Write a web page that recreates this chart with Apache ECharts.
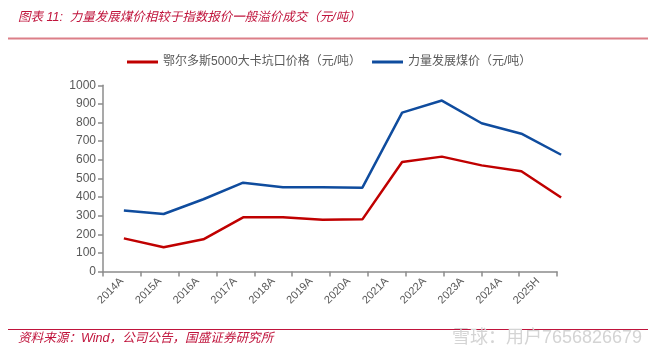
<!DOCTYPE html>
<html><head><meta charset="utf-8">
<script src="https://cdn.jsdelivr.net/npm/echarts@6/dist/echarts.min.js"></script>
<style>html,body{margin:0;padding:0;background:#fff}#c{width:657px;height:357px}</style>
</head><body><div id="c"></div>
<script>
const categories = ['2014A','2015A','2016A','2017A','2018A','2019A','2020A','2021A','2022A','2023A','2024A','2025H'];
const ordosPrice = [178,130,173,291,291,278,280,588,617,570,538,397];
const liliangPrice = [327,309,388,477,452,452,450,853,918,796,740,627];
const yTicks = [0,100,200,300,400,500,600,700,800,900,1000];
const seriesNames = ['鄂尔多斯5000大卡坑口价格（元/吨）','力量发展煤价（元/吨）'];

const chart = echarts.init(document.getElementById('c'), null, {renderer:'canvas'});
const grey = '#595959';
const axisGrey = '#8c8c8c';
const cjk = '"Liberation Sans", Arial, "Noto Sans CJK SC", sans-serif';
chart.setOption({
  animation:false,
  backgroundColor:'#fff',
  textStyle:{fontFamily:cjk},
  title:{
    text:'图表 11:  力量发展煤价相较于指数报价一般溢价成交（元/吨）',
    left:13, top:6,
    textStyle:{color:'#c0143c', fontSize:12.5, fontStyle:'italic', fontWeight:'normal', fontFamily:cjk}
  },
  legend:{
    top:51, left:122,
    itemWidth:31, itemHeight:3, itemGap:11,
    icon:'rect',
    textStyle:{color:grey, fontSize:12, fontFamily:cjk},
    data:seriesNames
  },
  grid:[
    {left:103, right:100, top:85.3, bottom:85.5},
    {left:104, right:76, top:85.3, bottom:85.5}
  ],
  xAxis:[
    {type:'category', gridIndex:0, data:categories, boundaryGap:true,
     axisLine:{lineStyle:{color:axisGrey, width:1.5}},
     axisTick:{show:true, alignWithLabel:false, length:5, lineStyle:{color:axisGrey, width:1.5}},
     axisLabel:{rotate:45, color:grey, fontSize:11, margin:8, interval:0}},
    {type:'category', gridIndex:1, data:categories, boundaryGap:true, show:false}
  ],
  yAxis:[
    {type:'value', gridIndex:0, min:0, max:1000, interval:100,
     axisLine:{show:true, lineStyle:{color:axisGrey, width:1.5}},
     axisTick:{show:true, length:5, inside:false, lineStyle:{color:axisGrey, width:1.5}},
     axisLabel:{color:grey, fontSize:12, margin:7, formatter:v=>yTicks.includes(v)?String(v):''},
     splitLine:{show:false}},
    {type:'value', gridIndex:1, min:0, max:1000, interval:100, show:false, splitLine:{show:false}}
  ],
  series:[
    {name:seriesNames[0], type:'line', xAxisIndex:1, yAxisIndex:1, data:ordosPrice,
     symbol:'none', lineStyle:{color:'#c00000', width:2.5}, itemStyle:{color:'#c00000'}},
    {name:seriesNames[1], type:'line', xAxisIndex:1, yAxisIndex:1, data:liliangPrice,
     symbol:'none', lineStyle:{color:'#0f4c9e', width:2.5}, itemStyle:{color:'#0f4c9e'}}
  ],
  graphic:[
    {type:'line', shape:{x1:8,y1:38.5,x2:648,y2:38.5}, style:{stroke:'#dc7f88', lineWidth:2}},
    {type:'line', shape:{x1:8,y1:329.5,x2:648,y2:329.5}, style:{stroke:'#c0143c', lineWidth:1}},
    {type:'text', left:18, top:332, style:{text:'资料来源：Wind，公司公告，国盛证券研究所', fill:'#c0143c', fontSize:12.6, fontStyle:'italic', fontFamily:cjk}},
    {type:'text', left:452, top:329, style:{text:'雪球：用户7656826679', fill:'#d4d4d4', fontSize:18, fontFamily:cjk}}
  ]
});
</script></body></html>
